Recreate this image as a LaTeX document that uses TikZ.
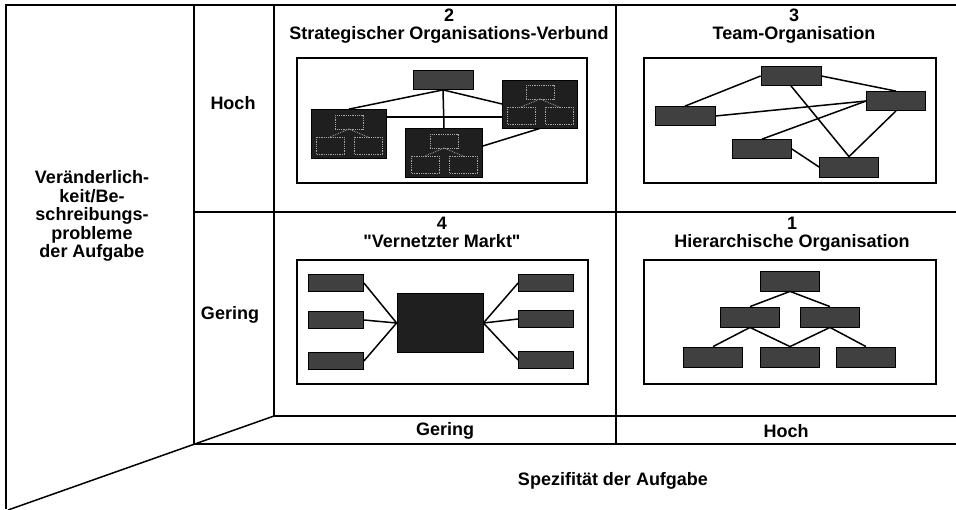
\documentclass[tikz,border=0pt]{standalone}
\usepackage{fontspec}
\setmainfont{Liberation Sans}
\usepackage{tikz}
\usetikzlibrary{calc}
\tikzset{unit/.style={rectangle,draw,fill=black!75,minimum width=59pt,minimum height=19pt,inner sep=0pt,line width=0.8pt}}
\tikzset{cluster/.style={unit,fill=black!88,minimum width=75pt,minimum height=49pt}}
\tikzset{hub/.style={unit,fill=black!88,minimum width=86pt,minimum height=59pt}}
\tikzset{ttl/.style={anchor=base,font=\bfseries\fontsize{18}{19}\selectfont,inner sep=0pt}}
\tikzset{lbl/.style={align=center,font=\bfseries\fontsize{18}{18.5}\selectfont,inner sep=0pt}}
\tikzset{sub/.style={densely dotted,draw=black!35,line width=0.8pt}}
\newcommand{\minitree}[1]{%
  \draw[sub] ($(#1)+(-14,-19)$) rectangle ($(#1)+(14,-5)$);
  \draw[sub] ($(#1)+(-33,3)$) rectangle ($(#1)+(-5,20)$);
  \draw[sub] ($(#1)+(5,3)$) rectangle ($(#1)+(33,20)$);
  \draw[sub] ($(#1)+(0,-5)$) -- ($(#1)+(-19,3)$);
  \draw[sub] ($(#1)+(0,-5)$) -- ($(#1)+(19,3)$);
}

\begin{document}
\begin{tikzpicture}[x=1pt,y=-1pt,line width=1.5pt]
    \useasboundingbox (0,0) rectangle (956,509);

    % grid
    \draw (956,5) -- (6,5) -- (6,509);
    \draw (194,5) -- (194,444);
    \draw (274,5) -- (274,416);
    \draw (616,5) -- (616,444);
    \draw (194,212) -- (956,212);
    \draw (274,416) -- (956,416);
    \draw (194,444) -- (956,444);
    \draw (274,416) -- (8,510);

    % axis labels
    \node[lbl] (ax) at (92,216) {Veränderlich-\\keit/Be-\\schreibungs-\\probleme\\der Aufgabe};
    \node[lbl] (rh) at (233,103) {Hoch};
    \node[lbl] (rg) at (230,315) {Gering};
    \node[lbl] (cg) at (445,431) {Gering};
    \node[lbl] (ch) at (786,431) {Hoch};
    \node[lbl] (ay) at (613,481) {Spezifität der Aufgabe};

    % 2: strategischer Organisations-Verbund
    \node[ttl] (n2) at (449,21) {2};
    \node[ttl] (t2) at (449,39.5) {Strategischer Organisations-Verbund};
    \draw[line width=1.2pt] (297,58) rectangle (587,183);
    \node[unit,minimum width=60pt] (s1) at (443,80) {};
    \node[cluster] (s2) at (349,134) {};
    \node[cluster,minimum width=77pt] (s3) at (444,153) {};
    \node[cluster,minimum height=48pt] (s4) at (540,104) {};
    \minitree{s2}
    \minitree{s3}
    \minitree{s4}
    \draw (s1.south) -- (s2.north);
    \draw (s1.south) -- (s3.north);
    \draw (s1.south) -- (s4.west);
    \draw ([yshift=17pt]s2.east) -- ([yshift=-13pt]s4.west);
    \draw ([yshift=7pt]s3.east) -- (s4.south);

    % 3: Team-Organisation
    \node[ttl] (n3) at (794,21) {3};
    \node[ttl] (t3) at (794,39.5) {Team-Organisation};
    \draw[line width=1.2pt] (644,58) rectangle (936,183);
    \node[unit,minimum width=60pt] (t1) at (791,76) {};
    \node[unit,minimum width=60pt] (t2) at (685,116) {};
    \node[unit] (t3) at (896,101) {};
    \node[unit] (t4) at (762,149) {};
    \node[unit,minimum height=20pt] (t5) at (849,167) {};
    \draw (t2.north) -- (t1.west);
    \draw (t1.east) -- (t3.north);
    \draw (t2.east) -- (t3.west);
    \draw (t1.south) -- (t5.north);
    \draw (t4.north) -- (t3.west);
    \draw (t4.east) -- (t5.west);
    \draw (t3.south) -- (t5.north);

    % 4: vernetzter Markt
    \node[ttl] (n4) at (442,229) {4};
    \node[ttl] (t4x) at (442,247) {\textquotedbl Vernetzter Markt\textquotedbl};
    \draw[line width=1.2pt] (297,260) rectangle (588,384);
    \node[hub] (m0) at (440,323) {};
    \node[unit,minimum width=55pt,minimum height=17pt] (m1) at (336,283) {};
    \node[unit,minimum width=55pt,minimum height=17pt] (m2) at (336,320) {};
    \node[unit,minimum width=55pt,minimum height=17pt] (m3) at (336,361) {};
    \node[unit,minimum width=55pt,minimum height=17pt] (m4) at (546,283) {};
    \node[unit,minimum width=55pt,minimum height=17pt] (m5) at (546,319) {};
    \node[unit,minimum width=55pt,minimum height=17pt] (m6) at (546,360) {};
    \draw (m1.east) -- (m0.west);
    \draw (m2.east) -- (m0.west);
    \draw (m3.east) -- (m0.west);
    \draw (m4.west) -- (m0.east);
    \draw (m5.west) -- (m0.east);
    \draw (m6.west) -- (m0.east);

    % 1: hierarchische Organisation
    \node[ttl] (n1) at (792,229) {1};
    \node[ttl] (t1x) at (792,247) {Hierarchische Organisation};
    \draw[line width=1.2pt] (644,260) rectangle (936,384);
    \node[unit,minimum height=20pt] (h1) at (790,281) {};
    \node[unit,minimum height=20pt] (h2) at (750,317) {};
    \node[unit,minimum height=20pt] (h3) at (830,317) {};
    \node[unit,minimum height=20pt] (h4) at (713,357) {};
    \node[unit,minimum height=20pt] (h5) at (790,357) {};
    \node[unit,minimum height=20pt] (h6) at (866,357) {};
    \draw (h1.south) -- (h2.north);
    \draw (h1.south) -- (h3.north);
    \draw (h2.south) -- (h4.north);
    \draw (h2.south) -- (h5.north);
    \draw (h3.south) -- (h5.north);
    \draw (h3.south) -- (h6.north);
\end{tikzpicture}
\end{document}
